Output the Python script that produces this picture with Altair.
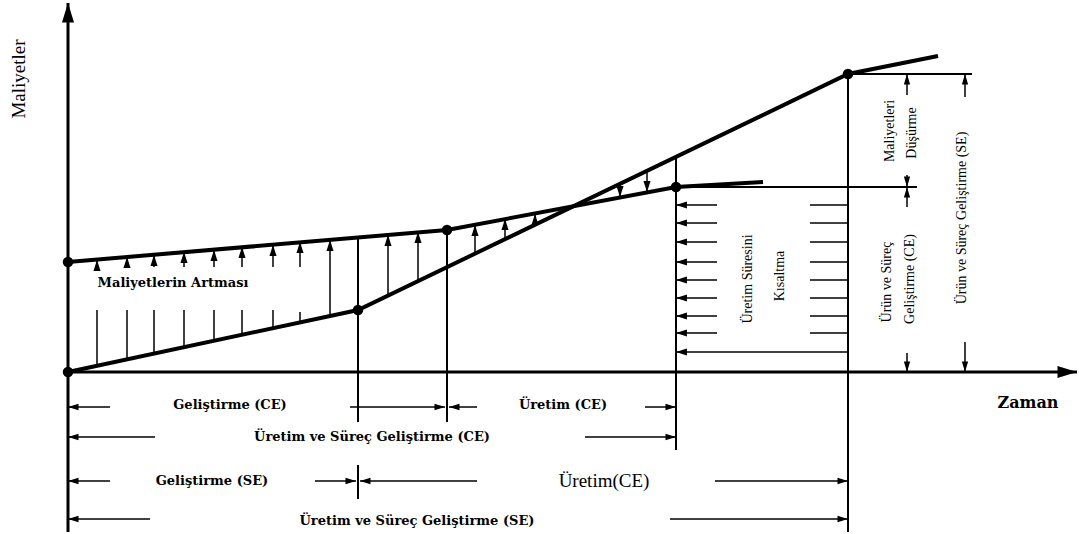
import math
import altair as alt
import pandas as pd

# ---------------- data (x = time, y = cost; origin where the axes cross) ----------------
ce_time = [0, 290, 780, 870]
ce_cost = [0, 62, 298, 316]
se_time = [0, 379, 608, 695]
se_cost = [110, 142, 185, 190]

dot_time = [0, 290, 780, 0, 379, 608]
dot_cost = [0, 62, 298, 110, 142, 185]

# axes (from -> arrow tip)
axis_t0 = [0, -2]
axis_c0 = [-160, 0]
axis_t1 = [0, 1009]
axis_c1 = [369, 0]

# guide lines (plain)
guide_t0 = [290, 379, 608, 780, 290, 780, 608]
guide_c0 = [135, 142, 215, 298, -93, 298, 185]
guide_t1 = [290, 379, 608, 780, 290, 904, 849]
guide_c1 = [-50, -50, -78, -160, -127, 298, 185]

# hatching: plain stems under the "Maliyetlerin Artması" label
stem_t = [29, 59, 86, 116, 146, 174, 205, 232]
stem_low = [6, 13, 18, 25, 31, 37, 44, 50]
stem_top = [62, 62, 62, 62, 62, 62, 62, 60]

# hatching arrows pointing up to the upper cost curve
up_t = [29, 59, 86, 116, 146, 174, 205, 232, 262, 320, 350, 407, 437, 467]
up_base = [105, 105, 105, 105, 105, 105, 105, 105, 56, 76, 91, 118, 133, 147]
up_tip = [112, 115, 117, 120, 122, 125, 127, 130, 132, 137, 140, 147, 153, 158]

# hatching arrows pointing down after the crossing
down_t = [552, 579]
down_base = [188, 201]
down_tip = [175, 180]

# production-time shortening hatch
short_c = [167, 149, 130, 110, 92, 74, 56, 39]
short_arrow_from = 649
short_line_from = 742
short_bottom_c = 20

# bracket arrows below the time axis: (row cost, from time, tip time)
row_c = [-35, -35, -35, -35, -65, -65, -109, -109, -109, -109, -147, -147]
row_from = [42, 282, 409, 577, 87, 517, 42, 247, 409, 647, 82, 602]
row_tip = [0, 377, 381, 608, 0, 608, 0, 288, 292, 780, 0, 780]

# vertical brackets on the right: (time, from cost, tip cost)
col_t = [839, 839, 839, 839, 897, 897]
col_from = [277, 197, 165, 19, 275, 30]
col_tip = [298, 185, 185, 0, 298, 0]

# texts
bold_text = ["Maliyetlerin Artması", "Geliştirme (CE)", "Üretim (CE)",
             "Üretim ve Süreç Geliştirme (CE)", "Geliştirme (SE)",
             "Üretim ve Süreç Geliştirme (SE)"]
bold_t = [105, 162, 495, 304, 144, 349]
bold_c = [89, -33, -33, -65, -109, -149]

rot_text = ["Maliyetleri", "Düşürme", "Ürün ve Süreç", "Geliştirme (CE)",
            "Ürün ve Süreç Geliştirme (SE)", "Üretim Süresini", "Kısaltma"]
rot_t = [822, 844, 819, 842, 894, 680, 712]
rot_c = [241, 239, 90, 93, 154, 93, 96]

# ---------------- helpers ----------------
def head_paths(w):
    return {
        "up": f"M0,-1L-{w},1L{w},1Z",
        "down": f"M0,1L-{w},-1L{w},-1Z",
        "left": f"M-1,0L1,-{w}L1,{w}Z",
        "right": f"M1,0L-1,-{w}L-1,{w}Z",
    }


def arrow_frame(t0, c0, t1, c1, size, w=0.55):
    heads = head_paths(w)
    half = math.sqrt(size) / 2
    rows = []
    for a, b, c, d in zip(t0, c0, t1, c1):
        if abs(c - a) >= abs(d - b):
            direction = "right" if c > a else "left"
            ht, hc = (c - half, d) if c > a else (c + half, d)
        else:
            direction = "up" if d > b else "down"
            ht, hc = (c, d - half) if d > b else (c, d + half)
        rows.append(dict(t=a, c=b, t2=c, c2=d, ht=ht, hc=hc, shape=heads[direction]))
    return pd.DataFrame(rows)


X = alt.Scale(domain=[-68, 1011], nice=False, zero=False)
Y = alt.Scale(domain=[-162, 372], nice=False, zero=False)


def seg_layer(df, width):
    return alt.Chart(df).mark_rule(color="black", strokeWidth=width).encode(
        x=alt.X("t:Q", scale=X, axis=None),
        y=alt.Y("c:Q", scale=Y, axis=None),
        x2="t2:Q",
        y2="c2:Q",
    )


def head_layer(df, size):
    return alt.Chart(df).mark_point(filled=True, color="black", opacity=1, strokeWidth=0).encode(
        x=alt.X("ht:Q", scale=X, axis=None),
        y=alt.Y("hc:Q", scale=Y, axis=None),
        shape=alt.Shape("shape:N", scale=None),
        size=alt.value(size),
    )


# ---------------- frames ----------------
curves = pd.DataFrame(
    {"t": ce_time + se_time, "c": ce_cost + se_cost,
     "series": ["CE"] * len(ce_time) + ["SE"] * len(se_time),
     "order": list(range(len(ce_time))) + list(range(len(se_time)))}
)
dots = pd.DataFrame({"t": dot_time, "c": dot_cost})

axes_df = arrow_frame(axis_t0, axis_c0, axis_t1, axis_c1, 380, 0.62)

guides_df = pd.DataFrame({"t": guide_t0, "c": guide_c0, "t2": guide_t1, "c2": guide_c1})

thin_lines = pd.DataFrame({
    "t": stem_t + [short_line_from] * len(short_c),
    "c": stem_low + short_c,
    "t2": stem_t + [780] * len(short_c),
    "c2": stem_top + short_c,
})

hatch_arrows = arrow_frame(
    up_t + down_t + [short_arrow_from] * len(short_c) + [780],
    up_base + down_base + short_c + [short_bottom_c],
    up_t + down_t + [608] * len(short_c) + [608],
    up_tip + down_tip + short_c + [short_bottom_c],
    120, 0.65,
)

bracket_arrows = arrow_frame(
    row_from + col_t, row_c + col_from, row_tip + col_t, row_c + col_tip, 110, 0.6
)

bold_df = pd.DataFrame({"t": bold_t, "c": bold_c, "label": bold_text})
rot_df = pd.DataFrame({"t": rot_t, "c": rot_c, "label": rot_text})
uretim_df = pd.DataFrame({"t": [536], "c": [-109], "label": ["Üretim(CE)"]})
ylab_df = pd.DataFrame({"t": [-49], "c": [293], "label": ["Maliyetler"]})
xlab_df = pd.DataFrame({"t": [960], "c": [-31], "label": ["Zaman"]})


def text_layer(df, **kw):
    return alt.Chart(df).mark_text(color="black", align="center", baseline="middle", **kw).encode(
        x=alt.X("t:Q", scale=X, axis=None),
        y=alt.Y("c:Q", scale=Y, axis=None),
        text="label:N",
    )


curve_layer = alt.Chart(curves).mark_line(color="black", strokeWidth=4).encode(
    x=alt.X("t:Q", scale=X, axis=None),
    y=alt.Y("c:Q", scale=Y, axis=None),
    detail="series:N",
    order="order:Q",
)
dot_layer = alt.Chart(dots).mark_point(filled=True, color="black", opacity=1, size=110).encode(
    x=alt.X("t:Q", scale=X, axis=None),
    y=alt.Y("c:Q", scale=Y, axis=None),
)

chart = alt.layer(
    seg_layer(guides_df, 2),
    seg_layer(thin_lines, 1.5),
    seg_layer(hatch_arrows, 1.5),
    head_layer(hatch_arrows, 120),
    seg_layer(bracket_arrows, 1.5),
    head_layer(bracket_arrows, 110),
    seg_layer(axes_df, 3),
    head_layer(axes_df, 380),
    curve_layer,
    dot_layer,
    text_layer(bold_df, font="DejaVu Serif", fontSize=13, fontWeight="bold"),
    text_layer(rot_df, font="Liberation Serif", fontSize=14, angle=270),
    text_layer(uretim_df, font="Liberation Serif", fontSize=19),
    text_layer(ylab_df, font="Liberation Serif", fontSize=19, angle=270),
    text_layer(xlab_df, font="DejaVu Serif", fontSize=16, fontWeight="bold"),
).properties(
    width=1079, height=534, padding=0, autosize=alt.AutoSizeParams(type="none"),
    background="white",
).configure_view(stroke=None)

chart.save("out.html", embed_options={"renderer": "svg", "actions": False})
